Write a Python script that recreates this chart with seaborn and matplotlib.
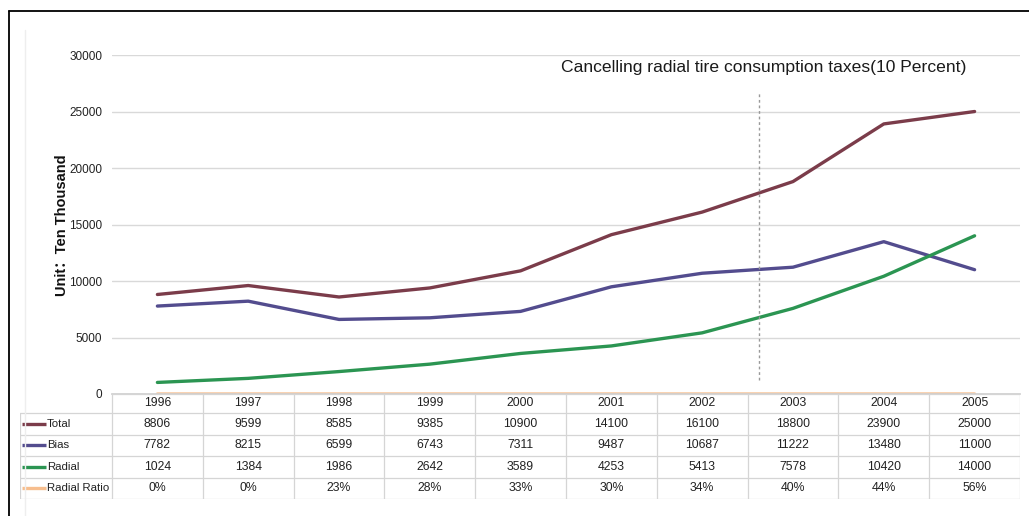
import numpy as np
import pandas as pd
import seaborn as sns
import matplotlib.pyplot as plt
from matplotlib import font_manager
from matplotlib.lines import Line2D

years = ['1996', '1997', '1998', '1999', '2000', '2001', '2002', '2003', '2004', '2005']
total = [8806, 9599, 8585, 9385, 10900, 14100, 16100, 18800, 23900, 25000]
bias = [7782, 8215, 6599, 6743, 7311, 9487, 10687, 11222, 13480, 11000]
radial = [1024, 1384, 1986, 2642, 3589, 4253, 5413, 7578, 10420, 14000]
radial_ratio = [0, 0, 23, 28, 33, 30, 34, 40, 44, 56]  # percent

series_names = ['Total', 'Bias', 'Radial', 'Radial Ratio']
colors = ['#7B3C4A', '#534C8E', '#2B9552', '#F7BE8E']
note = 'Cancelling radial tire consumption taxes(10 Percent)'
policy_x = 6.63  # position of the dashed marker between 2002 and 2003

W, H = 1029, 516

sns.set_theme(style='white')
try:
    font_manager.findfont('Liberation Sans Narrow', fallback_to_default=False)
    narrow = 'Liberation Sans Narrow'
except Exception:
    narrow = 'Liberation Sans'
plt.rcParams['font.family'] = [narrow, 'Liberation Sans', 'DejaVu Sans', 'Noto Sans CJK SC']

df = pd.DataFrame({
    'Year': years * 4,
    'x': list(range(len(years))) * 4,
    'Value': total + bias + radial + [r / 100 for r in radial_ratio],
    'Series': sum([[s] * len(years) for s in series_names], []),
})

def px(x0, y0, x1, y1):
    # pixel box (top-left origin) -> figure fraction rect
    return [x0 / W, 1 - y1 / H, (x1 - x0) / W, (y1 - y0) / H]

fig = plt.figure(figsize=(W / 100, H / 100), dpi=100)
ax = fig.add_axes(px(112, 55, 1020, 394))

sns.lineplot(data=df, x='x', y='Value', hue='Series', hue_order=series_names,
             palette=colors, linewidth=2.4, legend=False, ax=ax, sort=False)

ax.set_xlim(-0.5, 9.5)
ax.set_ylim(0, 30000)
ax.set_yticks(np.arange(0, 30001, 5000))
ax.set_xticks([])
ax.set_xlabel('')
ax.set_ylabel('')
ax.tick_params(axis='y', length=0, pad=7, labelsize=8.5, labelcolor='#222222')
ax.grid(axis='y', color='#D9D9D9', linewidth=1)
for s in ['top', 'right', 'left']:
    ax.spines[s].set_visible(False)
ax.spines['bottom'].set_color('#D0D0D0')

# policy marker and note
ax.plot([policy_x, policy_x], [1240, 26700], color='#999999', linestyle=(0, (2, 2)), linewidth=1)
ax.text(4.45, 28850, note, fontsize=12.6, va='center', ha='left', color='#1A1A1A')

fig.text(62 / W, 1 - 225 / H, 'Unit：Ten Thousand', rotation=90, ha='center', va='center',
         fontsize=10.5, fontweight='bold', color='#111111',
         family=['Liberation Sans', 'Noto Sans CJK SC', 'DejaVu Sans'])

# data table under the chart
tax = fig.add_axes(px(20, 394, 1020, 499))
label_w = 92 / 90.8
tax.set_xlim(-0.5 - label_w, 9.5)
tax.set_ylim(105, 0)
tax.axis('off')
row_edges = [0, 19, 40.5, 62, 83.5, 105]
grid_c = '#D5D5D5'
for i, y in enumerate(row_edges):
    x_start = -0.5 if i == 0 else -0.5 - label_w
    tax.plot([x_start, 9.5], [y, y], color=grid_c, linewidth=0.9)
for j in range(11):
    xv = -0.5 + j
    tax.plot([xv, xv], [0, 105], color=grid_c, linewidth=0.9)
tax.plot([-0.5 - label_w] * 2, [19, 105], color=grid_c, linewidth=0.9)

for j, yr in enumerate(years):
    tax.text(j, 9.5, yr, ha='center', va='center', fontsize=8.8, color='#222222')

rows = [total, bias, radial, [f'{r}%' for r in radial_ratio]]
for i, (name, vals, c) in enumerate(zip(series_names, rows, colors)):
    yc = (row_edges[i + 1] + row_edges[i + 2]) / 2
    x0 = -0.5 - label_w + 2 / 90.8
    tax.add_line(Line2D([x0, x0 + 24 / 90.8], [yc, yc], color=c, linewidth=2.4, solid_capstyle='butt'))
    tax.text(x0 + 25 / 90.8, yc, name, ha='left', va='center', fontsize=8.2, color='#222222')
    for j, v in enumerate(vals):
        tax.text(j, yc, str(v), ha='center', va='center', fontsize=8.8, color='#222222')

# outer frame of the picture (top and left edges)
fig.add_artist(Line2D([9 / W, 1], [1 - 11 / H] * 2, color='black', linewidth=1.3, transform=fig.transFigure))
fig.add_artist(Line2D([9 / W] * 2, [0, 1 - 11 / H], color='black', linewidth=1.3, transform=fig.transFigure))
fig.add_artist(Line2D([25 / W] * 2, [0, 1 - 30 / H], color='#EEEEEE', linewidth=1, transform=fig.transFigure))

fig.savefig('out.png', dpi=100)
